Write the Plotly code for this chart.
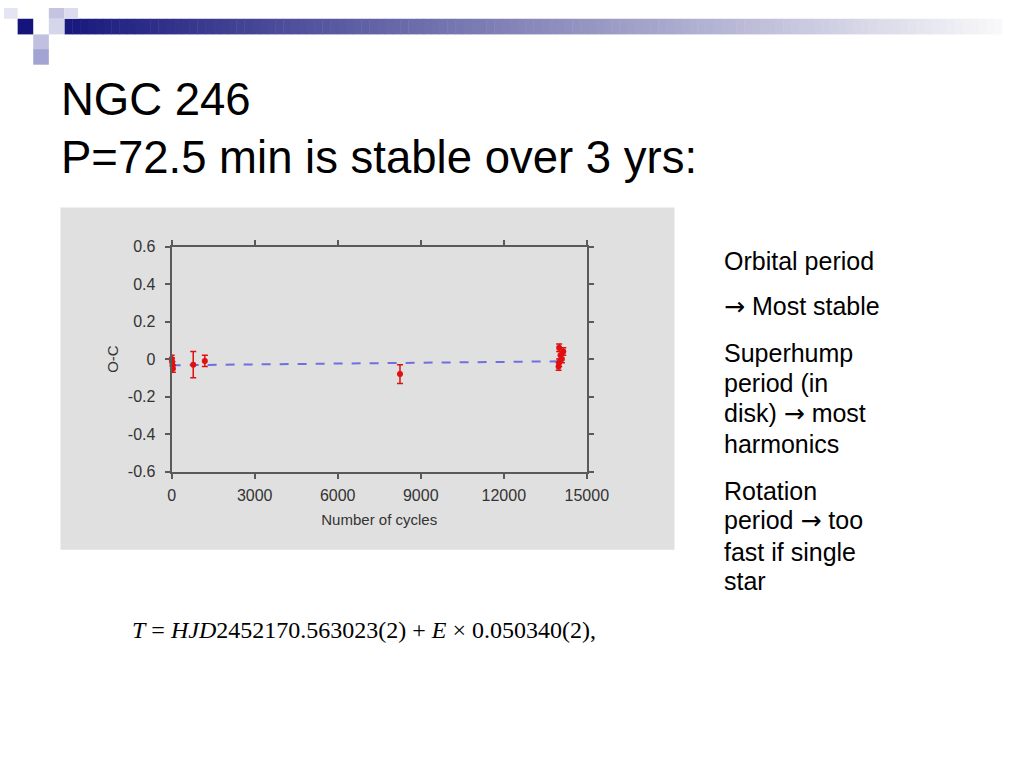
import plotly.graph_objects as go

# ---- data ----
cycles = [0, 15, 30, 45, 780, 1200, 8250, 14000, 14150, 14050, 14100, 14000, 13980]
o_minus_c = [0.0, -0.015, -0.035, -0.05, -0.03, -0.01, -0.08, 0.06, 0.04, 0.02, 0.0, -0.02, -0.04]
o_minus_c_err = [0.02, 0.02, 0.02, 0.02, 0.07, 0.03, 0.05, 0.02, 0.02, 0.02, 0.02, 0.02, 0.02]
fit_cycles = [0, 14100]
fit_oc = [-0.033, -0.012]
x_ticks = [0, 3000, 6000, 9000, 12000, 15000]
y_ticks = [-0.6, -0.4, -0.2, 0, 0.2, 0.4, 0.6]
y_tick_text = ["-0.6", "-0.4", "-0.2", "0", "0.2", "0.4", "0.6"]

W, H = 1024, 768
def px(x): return x / W
def py(y): return 1 - y / H

fig = go.Figure()

fig.add_trace(go.Scatter(
    x=fit_cycles, y=fit_oc, mode="lines",
    line=dict(color="#6f6fe0", width=2, dash="dash"),
    hoverinfo="skip", showlegend=False, cliponaxis=False))

fig.add_trace(go.Scatter(
    x=cycles, y=o_minus_c, mode="markers",
    marker=dict(color="#e01010", size=6),
    error_y=dict(type="data", array=o_minus_c_err, color="#e01010", thickness=1.5, width=3),
    showlegend=False, cliponaxis=False))

shapes = []
# grey chart panel
shapes.append(dict(type="rect", xref="paper", yref="paper", x0=px(58), x1=px(688), y0=py(554), y1=py(204),
                   fillcolor="#e0e0e0", line=dict(width=0), layer="below"))

# header gradient bar
x_start, x_end = 62, 1024
n = 120
c0 = (26, 26, 126)
c1 = (248, 248, 250)
for i in range(n):
    t = i / (n - 1)
    col = tuple(int(c0[k] + (c1[k] - c0[k]) * t) for k in range(3))
    xa = x_start + (x_end - x_start) * i / n
    xb = x_start + (x_end - x_start) * (i + 1) / n + 0.5
    shapes.append(dict(type="rect", xref="paper", yref="paper", x0=px(xa), x1=px(xb), y0=py(27), y1=py(11),
                       fillcolor="rgb(%d,%d,%d)" % col, line=dict(width=0), layer="below"))

# header squares
squares = [
    (14, 30, 11, 27, "#14147a"),
    (46, 62, 11, 27, "#d6d6ea"),
    (46, 62, 0, 11, "#c4c4e2"),
    (62, 76, 0, 11, "#dcdcee"),
    (0, 14, 0, 11, "#e4e4f2"),
    (30, 46, 27, 42, "#c0c0e0"),
    (30, 46, 42, 58, "#a4a4d2"),
]
for x0, x1, y0, y1, c in squares:
    shapes.append(dict(type="rect", xref="paper", yref="paper", x0=px(x0), x1=px(x1), y0=py(y1), y1=py(y0),
                       fillcolor=c, line=dict(width=0), layer="below"))

annotations = []
title_font = dict(family="Liberation Sans, Arial, sans-serif", size=45.5, color="#000000")
annotations.append(dict(text="NGC 246", x=px(56), y=py(94), xref="paper", yref="paper",
                        xanchor="left", yanchor="middle", showarrow=False, font=title_font))
annotations.append(dict(text="P=72.5 min is stable over 3 yrs:", x=px(56), y=py(153), xref="paper", yref="paper",
                        xanchor="left", yanchor="middle", showarrow=False, font=title_font))

ARROW = '<span style="font-family:DejaVu Sans">→</span>'
side_font = dict(family="Liberation Sans, Arial, sans-serif", size=25, color="#000000")
side_lines = [
    ("Orbital period", 261),
    (ARROW + " Most stable", 306),
    ("Superhump", 353),
    ("period (in", 383),
    ("disk) " + ARROW + " most", 414),
    ("harmonics", 444),
    ("Rotation", 491),
    ("period " + ARROW + " too", 521),
    ("fast if single", 552),
    ("star", 582),
]
for txt, yy in side_lines:
    annotations.append(dict(text=txt, x=px(737), y=py(259 + (yy - 261) * 1.02), xref="paper", yref="paper",
                            xanchor="left", yanchor="middle", showarrow=False, font=side_font))

annotations.append(dict(
    text="<i>T</i> = <i>HJD</i>2452170.563023(2) + <i>E</i> × 0.050340(2),",
    x=px(129), y=py(636), xref="paper", yref="paper", xanchor="left", yanchor="middle",
    showarrow=False, font=dict(family="Liberation Serif, Times New Roman, serif", size=24, color="#000000")))

axis_common = dict(showline=True, linecolor="#5a5a5a", linewidth=2, mirror="ticks",
                   ticks="outside", ticklen=5, tickwidth=1.5, tickcolor="#5a5a5a",
                   showgrid=False, zeroline=False,
                   tickfont=dict(family="Liberation Sans, Arial, sans-serif", size=16, color="#333333"))

fig.update_layout(
    width=W, height=H, margin=dict(l=0, r=0, t=0, b=0),
    paper_bgcolor="#ffffff", plot_bgcolor="rgba(0,0,0,0)",
    shapes=shapes, annotations=annotations, showlegend=False,
    xaxis=dict(domain=[px(172), px(598)], range=[0, 15000], tickvals=x_ticks,
               ticktext=[str(v) for v in x_ticks], ticklabelstandoff=3,
               title=dict(text="Number of cycles", standoff=12,
                          font=dict(family="Liberation Sans, Arial, sans-serif", size=15, color="#333333")),
               **axis_common),
    yaxis=dict(domain=[py(474), py(244)], range=[-0.6, 0.6], tickvals=y_ticks, ticktext=y_tick_text,
               ticklabelstandoff=6,
               title=dict(text="O-C", standoff=6,
                          font=dict(family="Liberation Sans, Arial, sans-serif", size=15, color="#333333")),
               **axis_common),
)

fig.write_html("out.html", config={"displayModeBar": False},
               post_script="document.body.style.margin='0';document.body.style.overflow='hidden';")
